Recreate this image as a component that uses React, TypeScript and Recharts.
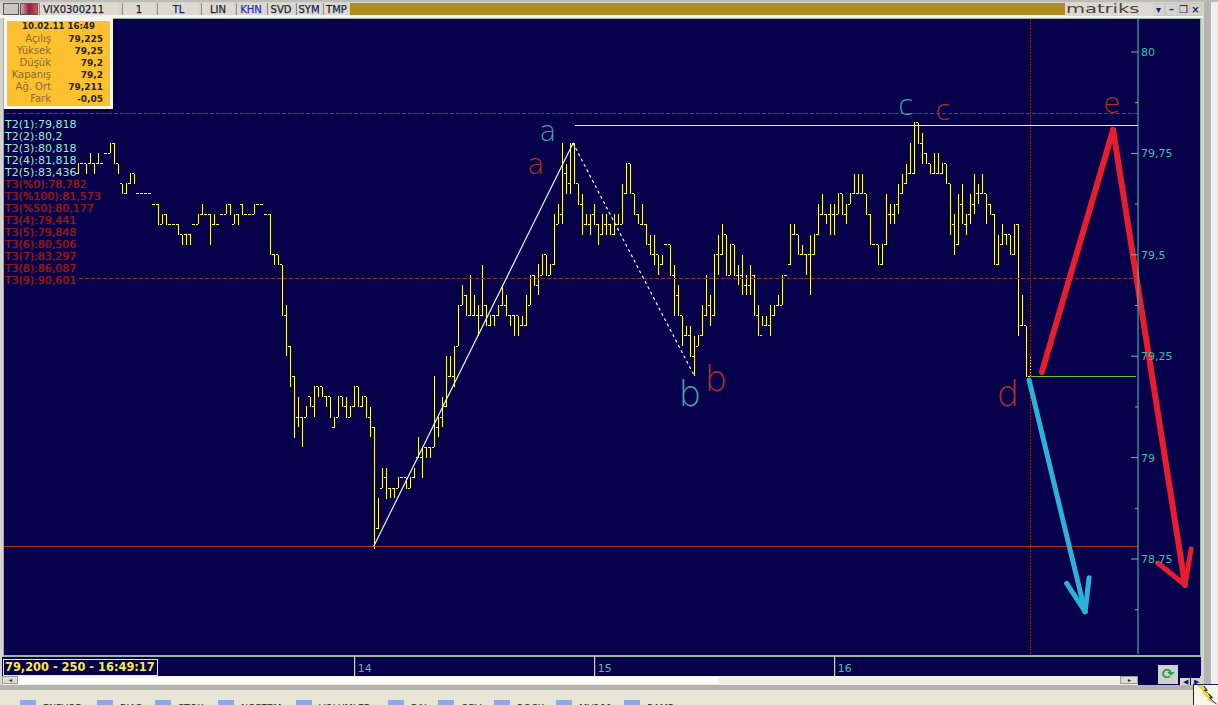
import { Bar, ComposedChart, ReferenceDot, ReferenceLine, XAxis, YAxis } from "recharts";

// one-minute OHLC bars of VIX0300211, oldest first
const highs = [
  79.725, 79.725, 79.725, 79.75, 79.725, 79.75, 79.725, 79.75, 79.775, 79.775,
  79.725, 79.675, 79.675, 79.7, 79.7, 79.65, 79.65, 79.65, 79.65, 79.625,
  79.625, 79.6, 79.6, 79.575, 79.575, 79.575, 79.55, 79.55, 79.55, 79.575,
  79.6, 79.625, 79.6, 79.6, 79.6, 79.575, 79.6, 79.625, 79.625, 79.6,
  79.6, 79.625, 79.6, 79.6, 79.625, 79.625, 79.625, 79.6, 79.6, 79.5,
  79.5, 79.475, 79.375, 79.275, 79.2, 79.15, 79.1, 79.125, 79.15, 79.175,
  79.175, 79.175, 79.15, 79.15, 79.1, 79.15, 79.15, 79.15, 79.125, 79.175,
  79.175, 79.15, 79.15, 79.125, 79.075, 78.9, 78.975, 78.975, 78.925, 78.925,
  78.95, 78.95, 78.95, 78.95, 78.975, 79.05, 79.025, 79.025, 79.025, 79.2,
  79.1, 79.15, 79.25, 79.25, 79.275, 79.375, 79.425, 79.4, 79.45, 79.4,
  79.375, 79.475, 79.375, 79.35, 79.35, 79.375, 79.425, 79.4, 79.35, 79.35,
  79.35, 79.35, 79.4, 79.45, 79.45, 79.475, 79.5, 79.5, 79.475, 79.6,
  79.625, 79.775, 79.725, 79.775, 79.775, 79.675, 79.65, 79.6, 79.6, 79.625,
  79.575, 79.6, 79.6, 79.575, 79.6, 79.6, 79.675, 79.725, 79.725, 79.65,
  79.6, 79.625, 79.575, 79.55, 79.55, 79.5, 79.5, 79.525, 79.525, 79.475,
  79.425, 79.35, 79.325, 79.325, 79.3, 79.3, 79.375, 79.45, 79.4, 79.5,
  79.55, 79.575, 79.55, 79.525, 79.525, 79.475, 79.5, 79.45, 79.475, 79.45,
  79.375, 79.35, 79.35, 79.375, 79.375, 79.4, 79.45, 79.45, 79.575, 79.575,
  79.55, 79.525, 79.5, 79.55, 79.55, 79.625, 79.65, 79.6, 79.625, 79.625,
  79.65, 79.65, 79.625, 79.65, 79.7, 79.7, 79.7, 79.65, 79.6, 79.525,
  79.525, 79.525, 79.65, 79.625, 79.625, 79.675, 79.7, 79.725, 79.775, 79.825,
  79.825, 79.8, 79.75, 79.725, 79.75, 79.75, 79.725, 79.725, 79.675, 79.6,
  79.65, 79.675, 79.6, 79.65, 79.7, 79.675, 79.7, 79.65, 79.625, 79.6,
  79.55, 79.575, 79.55, 79.55, 79.575, 79.575, 79.4, 79.325, 79.25,
];
const lows = [
  79.7, 79.725, 79.7, 79.725, 79.7, 79.725, 79.725, 79.75, 79.75, 79.725,
  79.7, 79.65, 79.65, 79.675, 79.675, 79.65, 79.65, 79.65, 79.65, 79.625,
  79.575, 79.575, 79.575, 79.575, 79.575, 79.55, 79.525, 79.525, 79.525, 79.575,
  79.575, 79.6, 79.6, 79.525, 79.575, 79.575, 79.6, 79.6, 79.6, 79.575,
  79.575, 79.6, 79.6, 79.6, 79.6, 79.625, 79.625, 79.6, 79.5, 79.475,
  79.475, 79.35, 79.25, 79.175, 79.05, 79.075, 79.025, 79.1, 79.125, 79.1,
  79.15, 79.15, 79.125, 79.1, 79.075, 79.1, 79.125, 79.1, 79.1, 79.125,
  79.125, 79.125, 79.1, 79.05, 78.775, 78.825, 78.925, 78.9, 78.9, 78.9,
  78.925, 78.95, 78.925, 78.925, 78.95, 79, 78.95, 79, 79, 79.025,
  79.05, 79.075, 79.125, 79.2, 79.175, 79.275, 79.375, 79.35, 79.35, 79.35,
  79.3, 79.35, 79.325, 79.325, 79.325, 79.35, 79.375, 79.35, 79.325, 79.3,
  79.3, 79.325, 79.325, 79.375, 79.425, 79.4, 79.45, 79.45, 79.45, 79.475,
  79.575, 79.575, 79.65, 79.65, 79.675, 79.625, 79.55, 79.575, 79.55, 79.575,
  79.525, 79.55, 79.55, 79.55, 79.55, 79.575, 79.575, 79.65, 79.65, 79.6,
  79.575, 79.575, 79.525, 79.5, 79.475, 79.45, 79.475, 79.525, 79.45, 79.35,
  79.35, 79.275, 79.3, 79.25, 79.2, 79.275, 79.3, 79.35, 79.325, 79.35,
  79.45, 79.5, 79.45, 79.45, 79.45, 79.425, 79.4, 79.4, 79.4, 79.35,
  79.3, 79.325, 79.325, 79.3, 79.35, 79.375, 79.375, 79.45, 79.475, 79.55,
  79.5, 79.5, 79.45, 79.4, 79.5, 79.55, 79.6, 79.575, 79.55, 79.55,
  79.6, 79.6, 79.575, 79.625, 79.65, 79.65, 79.65, 79.6, 79.525, 79.525,
  79.475, 79.475, 79.525, 79.575, 79.575, 79.6, 79.65, 79.675, 79.7, 79.7,
  79.775, 79.725, 79.725, 79.7, 79.7, 79.7, 79.7, 79.675, 79.55, 79.5,
  79.525, 79.575, 79.55, 79.575, 79.6, 79.625, 79.65, 79.575, 79.6, 79.475,
  79.475, 79.525, 79.525, 79.5, 79.5, 79.3, 79.325, 79.2, 79.2,
];
const opens = [
  79.7, 79.725, 79.725, 79.725, 79.725, 79.725, 79.725, 79.75, 79.75, 79.775,
  79.725, 79.675, 79.65, 79.675, 79.7, 79.65, 79.65, 79.65, 79.65, 79.625,
  79.625, 79.575, 79.6, 79.575, 79.575, 79.575, 79.55, 79.55, 79.55, 79.575,
  79.575, 79.6, 79.6, 79.6, 79.575, 79.575, 79.6, 79.6, 79.625, 79.575,
  79.6, 79.625, 79.6, 79.6, 79.6, 79.625, 79.625, 79.6, 79.6, 79.5,
  79.5, 79.475, 79.35, 79.275, 79.2, 79.1, 79.1, 79.1, 79.15, 79.125,
  79.175, 79.175, 79.15, 79.15, 79.075, 79.1, 79.15, 79.125, 79.1, 79.125,
  79.175, 79.125, 79.15, 79.1, 79.075, 78.825, 78.925, 78.95, 78.925, 78.925,
  78.925, 78.95, 78.95, 78.925, 78.95, 79, 79, 79.025, 79.025, 79.025,
  79.075, 79.1, 79.125, 79.2, 79.2, 79.275, 79.375, 79.4, 79.35, 79.35,
  79.35, 79.35, 79.375, 79.325, 79.35, 79.35, 79.375, 79.375, 79.35, 79.35,
  79.35, 79.325, 79.325, 79.375, 79.45, 79.425, 79.45, 79.5, 79.45, 79.475,
  79.575, 79.6, 79.7, 79.675, 79.775, 79.675, 79.625, 79.575, 79.575, 79.6,
  79.575, 79.55, 79.575, 79.575, 79.55, 79.575, 79.575, 79.65, 79.725, 79.65,
  79.6, 79.575, 79.575, 79.525, 79.5, 79.5, 79.475, 79.525, 79.525, 79.45,
  79.4, 79.35, 79.3, 79.3, 79.25, 79.275, 79.3, 79.35, 79.375, 79.35,
  79.5, 79.5, 79.55, 79.45, 79.525, 79.45, 79.45, 79.425, 79.425, 79.45,
  79.35, 79.3, 79.325, 79.325, 79.35, 79.375, 79.375, 79.45, 79.475, 79.55,
  79.55, 79.5, 79.5, 79.5, 79.5, 79.55, 79.6, 79.6, 79.6, 79.6,
  79.6, 79.65, 79.6, 79.625, 79.65, 79.65, 79.65, 79.65, 79.6, 79.525,
  79.525, 79.475, 79.525, 79.6, 79.6, 79.625, 79.65, 79.675, 79.7, 79.7,
  79.825, 79.775, 79.75, 79.725, 79.7, 79.7, 79.7, 79.725, 79.675, 79.575,
  79.525, 79.625, 79.575, 79.6, 79.625, 79.65, 79.65, 79.65, 79.625, 79.6,
  79.475, 79.525, 79.55, 79.55, 79.5, 79.575, 79.325, 79.325, 79.2,
];
const closes = [
  79.725, 79.725, 79.7, 79.725, 79.725, 79.75, 79.725, 79.75, 79.775, 79.725,
  79.7, 79.65, 79.675, 79.7, 79.675, 79.65, 79.65, 79.65, 79.65, 79.625,
  79.575, 79.6, 79.575, 79.575, 79.575, 79.55, 79.525, 79.55, 79.55, 79.575,
  79.6, 79.6, 79.6, 79.6, 79.575, 79.575, 79.6, 79.625, 79.6, 79.6,
  79.575, 79.6, 79.6, 79.6, 79.625, 79.625, 79.625, 79.6, 79.5, 79.5,
  79.475, 79.35, 79.275, 79.2, 79.05, 79.1, 79.1, 79.125, 79.125, 79.175,
  79.15, 79.15, 79.15, 79.1, 79.075, 79.15, 79.125, 79.1, 79.125, 79.175,
  79.125, 79.15, 79.1, 79.075, 78.825, 78.9, 78.95, 78.9, 78.925, 78.925,
  78.95, 78.95, 78.925, 78.95, 78.95, 79, 79.025, 79.025, 79, 79.075,
  79.1, 79.125, 79.2, 79.2, 79.275, 79.375, 79.4, 79.35, 79.35, 79.35,
  79.35, 79.4, 79.325, 79.35, 79.35, 79.375, 79.375, 79.35, 79.35, 79.35,
  79.325, 79.325, 79.4, 79.45, 79.425, 79.475, 79.5, 79.45, 79.475, 79.575,
  79.6, 79.7, 79.675, 79.775, 79.675, 79.625, 79.575, 79.575, 79.575, 79.575,
  79.55, 79.575, 79.575, 79.55, 79.575, 79.575, 79.65, 79.725, 79.65, 79.6,
  79.6, 79.575, 79.525, 79.5, 79.5, 79.475, 79.475, 79.525, 79.45, 79.4,
  79.35, 79.3, 79.3, 79.25, 79.275, 79.3, 79.35, 79.375, 79.35, 79.5,
  79.5, 79.55, 79.45, 79.525, 79.45, 79.45, 79.45, 79.425, 79.45, 79.35,
  79.3, 79.325, 79.325, 79.35, 79.375, 79.375, 79.45, 79.45, 79.55, 79.55,
  79.5, 79.5, 79.5, 79.5, 79.55, 79.6, 79.6, 79.6, 79.6, 79.6,
  79.65, 79.6, 79.625, 79.65, 79.65, 79.65, 79.65, 79.6, 79.525, 79.525,
  79.475, 79.525, 79.6, 79.6, 79.625, 79.65, 79.675, 79.7, 79.75, 79.825,
  79.775, 79.75, 79.725, 79.7, 79.7, 79.7, 79.725, 79.675, 79.65, 79.525,
  79.625, 79.6, 79.575, 79.625, 79.65, 79.65, 79.65, 79.625, 79.6, 79.5,
  79.525, 79.55, 79.55, 79.5, 79.575, 79.325, 79.325, 79.2, 79.2,
];

const bars = highs.map((high, i) => ({
  i,
  high,
  low: lows[i],
  open: opens[i],
  close: closes[i],
}));

const yTicks = [78.625, 78.75, 78.875, 79, 79.125, 79.25, 79.375, 79.5, 79.625, 79.75, 79.875, 80];
const xTicks = [69, 129, 189];
const xLabels = ["14", "15", "16"];

const t2Rows = ["T2(1):79,818", "T2(2):80,2", "T2(3):80,818", "T2(4):81,818", "T2(5):83,436"];
const t3Rows = [
  "T3(%0):78,782",
  "T3(%100):81,573",
  "T3(%50):80,177",
  "T3(4):79,441",
  "T3(5):79,848",
  "T3(6):80,506",
  "T3(7):83,297",
  "T3(8):86,087",
  "T3(9):90,601",
];
const infoLabels = ["Açılış", "Yüksek", "Düşük", "Kapanış", "Ağ. Ort", "Fark"];
const infoValues = ["79,225", "79,25", "79,2", "79,2", "79,211", "-0,05"];

// hand drawn segments, as [bar index, price]
const redArrow = [[240.8, 79.211], [258.6, 79.808], [276.6, 78.686]];
const redHead = [[269.8, 78.74], [276.6, 78.686], [278.1, 78.775]];
const blueArrow = [[237.6, 79.191], [251.6, 78.62]];
const blueHead = [[247.0, 78.69], [251.6, 78.62], [252.6, 78.704]];
const whiteRise = [[73.8, 78.782], [123.6, 79.775]];
const whiteFall = [[123.6, 79.775], [154, 79.2]];
const tealLetters = [
  { text: "a", i: 117.3, p: 79.805 },
  { text: "b", i: 152.8, p: 79.159 },
  { text: "c", i: 206.8, p: 79.869 },
];
const redLetters = [
  { text: "a", i: 114.3, p: 79.722 },
  { text: "b", i: 159.3, p: 79.196 },
  { text: "c", i: 216.1, p: 79.855 },
  { text: "e", i: 258.3, p: 79.874 },
  { text: "d", i: 232.3, p: 79.159 },
];

const toolbarCells = ["VIX0300211", "1", "TL", "LIN", "KHN", "SVD", "SYM", "TMP"];
const footerTabs = ["ENFVOB", "BIAS", "STOK", "NORTEM", "VOLUMLER", "BAL", "OBV", "ROCK", "MV100", "RAMP"];
const windowButtons = ["▾", "–", "❐", "×"];

const toolbarLefts = [39, 122, 157, 201, 236, 267, 296, 323];
const toolbarWidths = [80, 33, 42, 33, 29, 27, 25, 26];
const footerLefts = [20, 97, 155, 218, 296, 388, 438, 494, 556, 624];
const windowLefts = [1153, 1166, 1178, 1190];

const NAVY = "#07004a";
const FONT = '"DejaVu Sans", Verdana, sans-serif';
const BOLT = "polygon(0 0,40% 0,62% 38%,48% 42%,100% 100%,32% 56%,46% 50%)";

function OhlcBar(props: any) {
  const { x, width, y, height, payload } = props;
  const cx = x + width / 2;
  const top = Math.min(y, y + height);
  const h = Math.abs(height);
  const range = payload.high - payload.low;
  const yOpen = range ? top + ((payload.high - payload.open) / range) * h : top;
  const yClose = range ? top + ((payload.high - payload.close) / range) * h : top;
  return (
    <g stroke="#ffff3a" strokeWidth={1} shapeRendering="crispEdges">
      <line x1={cx} x2={cx} y1={top} y2={top + h} />
      <line x1={cx - 2} x2={cx} y1={yOpen} y2={yOpen} />
      <line x1={cx} x2={cx + 1} y1={yClose} y2={yClose} />
    </g>
  );
}

function PriceTick(props: any) {
  const { x, y, payload } = props;
  const major = (payload.value * 4) % 1 === 0;
  return (
    <g>
      <line x1={x - (major ? 7 : 3)} x2={x} y1={y} y2={y} stroke="#45cdb0" />
      {major && (
        <text x={x + 3} y={y + 4} fill="#3fc4a4" fontSize={11} fontFamily={FONT}>
          {String(payload.value).replace(".", ",")}
        </text>
      )}
    </g>
  );
}

function HourTick(props: any) {
  const { x, y, payload, index } = props;
  return (
    <g>
      <line x1={x} x2={x} y1={y + 2} y2={y + 22} stroke="#f4f4f4" />
      <text x={x + 3} y={y + 18} fill="#3fc4a4" fontSize={11} fontFamily={FONT}>
        {xLabels[index] ?? payload.value}
      </text>
    </g>
  );
}

function HandLetter(props: any) {
  const { cx, cy, text, color } = props;
  return (
    <text
      x={cx}
      y={cy}
      textAnchor="middle"
      dominantBaseline="central"
      fill={color}
      fontSize={"bd".includes(text) ? 36 : 28}
      fontWeight={200}
      fontFamily={FONT}
    >
      {text}
    </text>
  );
}

function letterDots(letters: { text: string; i: number; p: number }[], color: string) {
  return letters.map((l) => (
    <ReferenceDot
      key={`${color}-${l.text}`}
      x={l.i}
      y={l.p}
      r={0}
      ifOverflow="visible"
      shape={(p: any) => <HandLetter {...p} text={l.text} color={color} />}
    />
  ));
}

// draws a polyline as reference segments so it goes through the chart scales
function polySegments(points: number[][], key: string, stroke: string, strokeWidth: number, dash?: string) {
  return points.slice(1).map((pt, n) => (
    <ReferenceLine
      key={`${key}-${n}`}
      segment={[
        { x: points[n][0], y: points[n][1] },
        { x: pt[0], y: pt[1] },
      ]}
      stroke={stroke}
      strokeWidth={strokeWidth}
      strokeDasharray={dash}
      strokeLinecap="round"
      ifOverflow="visible"
    />
  ));
}

function Box(props: { left: number; top: number; width: number; height: number; style?: any; children?: any }) {
  const { left, top, width, height, style, children } = props;
  return <div style={{ position: "absolute", left, top, width, height, ...style }}>{children}</div>;
}

function Chrome() {
  return (
    <>
      {/* window frame */}
      <Box left={0} top={0} width={1218} height={705} style={{ background: "#d6d4ca" }} />
      <Box left={1204} top={0} width={7} height={705} style={{ background: "#b4b4b0" }} />
      <Box left={1211} top={0} width={7} height={705} style={{ background: "#eef0f0" }} />
      <Box left={350} top={3} width={715} height={12} style={{ background: "#b08a22" }} />
      <Box left={0} top={15} width={1203} height={3} style={{ background: "#f4f4f0" }} />
      <Box left={0} top={0} width={1218} height={2} style={{ background: "#bcbcb8" }} />

      {/* toolbar */}
      <Box left={3} top={3} width={16} height={12} style={{ background: "#c8c8c0", border: "1px solid #555", boxSizing: "border-box" }} />
      <Box left={20} top={3} width={18} height={12} style={{ background: "linear-gradient(90deg,#e9a0a0,#8a2040,#d05060)", border: "1px solid #555", boxSizing: "border-box" }} />
      {toolbarCells.map((text, n) => (
        <Box
          key={text}
          left={toolbarLefts[n]}
          top={3}
          width={toolbarWidths[n]}
          height={12}
          style={{
            background: "#dcdad0",
            color: text === "KHN" ? "#2a2ac8" : "#1c1c40",
            font: `10px ${FONT}`,
            lineHeight: "14px",
            textAlign: n === 0 ? "left" : "center",
            paddingLeft: n === 0 ? 3 : 0,
            borderLeft: "1px solid #8a8a84",
            boxSizing: "border-box",
            WebkitTextStroke: "0.25px currentColor",
          }}
        >
          {text}
        </Box>
      ))}
      <Box left={1065} top={3} width={88} height={13} style={{ background: "#dcdad0" }} />
      <Box
        left={1066}
        top={3}
        width={76}
        height={12}
        style={{ color: "#444", font: `13px ${FONT}`, lineHeight: "11px", transform: "scaleX(1.5)", transformOrigin: "left" }}
      >
        matriks
      </Box>
      <Box left={1153} top={3} width={49} height={13} style={{ background: "#c8c8c2" }} />
      {windowButtons.map((s, n) => (
        <Box
          key={s}
          left={windowLefts[n]}
          top={4}
          width={11}
          height={11}
          style={{ background: "#d4d4ce", color: "#22226a", font: `bold 10px ${FONT}`, lineHeight: "11px", textAlign: "center" }}
        >
          {s}
        </Box>
      ))}

      {/* navy panels */}
      <Box left={3} top={18} width={1198} height={638} style={{ background: NAVY, boxSizing: "border-box", border: "1px solid #8fb49c" }} />
      <Box left={3} top={655} width={1198} height={2} style={{ background: "#9cb8a4" }} />
      <Box left={2} top={657} width={1199} height={19} style={{ background: NAVY }} />
      <Box left={1138} top={676} width={62} height={9} style={{ background: NAVY }} />

      {/* scrollbar and footer */}
      <Box left={2} top={676} width={1136} height={9} style={{ background: "#f0efe8" }} />
      <Box left={18} top={677} width={700} height={7} style={{ background: "#ffffff" }} />
      <Box left={2} top={676} width={16} height={8} style={{ background: "#dedcd4", border: "1px solid #999", boxSizing: "border-box", color: "#222", font: "6px sans-serif", lineHeight: "6px", textAlign: "center" }}>◂</Box>
      <Box left={1120} top={676} width={18} height={8} style={{ background: "#dedcd4", border: "1px solid #999", boxSizing: "border-box", color: "#222", font: "6px sans-serif", lineHeight: "6px", textAlign: "center" }}>▸</Box>
      <Box left={0} top={685} width={1204} height={5} style={{ background: "#b2b2ae" }} />
      <Box left={0} top={690} width={1193} height={15} style={{ background: "#e8e6d6" }} />
      {footerTabs.map((text, n) => (
        <Box key={text} left={footerLefts[n]} top={700} width={180} height={5} style={{ overflow: "hidden" }}>
          <div style={{ position: "absolute", left: 0, top: 0, width: 16, height: 12, background: "#8fa8e4" }} />
          <div style={{ position: "absolute", left: 23, top: 2, color: "#222", font: `9.5px ${FONT}`, whiteSpace: "nowrap" }}>{text}</div>
        </Box>
      ))}
      <Box left={1158} top={665} width={20} height={19} style={{ background: "#d0d4cc", color: "#2c9a4a", font: `bold 15px ${FONT}`, lineHeight: "19px", textAlign: "center" }}>⟳</Box>
      <Box left={1180} top={678} width={10} height={7} style={{ background: "#d8d8d0", color: "#18186a", font: "7px sans-serif", lineHeight: "7px", textAlign: "center" }}>◀</Box>
      <Box left={1191} top={678} width={10} height={7} style={{ background: "#d8d8d0", color: "#18186a", font: "7px sans-serif", lineHeight: "7px", textAlign: "center" }}>▶</Box>
      <Box left={1193} top={684} width={25} height={21} style={{ background: "#f6f6ea", borderTop: "1px solid #18186a", borderLeft: "1px solid #18186a", boxSizing: "border-box" }} />
      <Box left={1198} top={686} width={16} height={12} style={{ background: "#18186a", clipPath: BOLT }} />
      <Box left={1196} top={685} width={16} height={12} style={{ background: "#f2da20", clipPath: BOLT }} />
      <Box left={1204} top={694} width={14} height={11} style={{ background: "#18186a", clipPath: BOLT }} />
      <Box left={1202} top={693} width={14} height={11} style={{ background: "#f2da20", clipPath: BOLT }} />
    </>
  );
}

function Overlays() {
  return (
    <>
      {/* values box */}
      <Box left={4} top={18} width={109} height={91} style={{ background: "#fdc130", border: "3px solid #f8f6ec", boxSizing: "border-box" }} />
      <Box left={4} top={20} width={109} height={12} style={{ color: "#2a2420", font: `bold 8.6px ${FONT}`, lineHeight: "12px", textAlign: "center" }}>
        10.02.11 16:49
      </Box>
      {infoLabels.map((label, n) => (
        <div key={label}>
          <Box left={4} top={33 + n * 12} width={47} height={12} style={{ color: "#8a6a30", font: `10px ${FONT}`, lineHeight: "12px", textAlign: "right", whiteSpace: "nowrap" }}>
            {label}
          </Box>
          <Box left={52} top={33 + n * 12} width={51} height={12} style={{ color: "#2a2420", font: `bold 9px ${FONT}`, lineHeight: "12px", textAlign: "right" }}>
            {infoValues[n]}
          </Box>
        </div>
      ))}

      {/* level labels */}
      {t2Rows.map((t, n) => (
        <Box key={t} left={5} top={119 + n * 12} width={100} height={12} style={{ color: "#a0ecc8", font: `11px ${FONT}`, lineHeight: "12px", whiteSpace: "nowrap" }}>
          {t}
        </Box>
      ))}
      {t3Rows.map((t, n) => (
        <Box key={t} left={5} top={179 + n * 12} width={110} height={12} style={{ color: "#8f1a14", font: `11px ${FONT}`, lineHeight: "12px", whiteSpace: "nowrap", textShadow: "0 0 1px #a8241c" }}>
          {t}
        </Box>
      ))}

      {/* status */}
      <Box left={3} top={659} width={155} height={17} style={{ background: NAVY, border: "1px solid #e8e8e8", boxSizing: "border-box", color: "#f8ec40", font: `bold 11.4px ${FONT}`, lineHeight: "15px", whiteSpace: "nowrap", paddingLeft: 1 }}>
        79,200 - 250 - 16:49:17
      </Box>
    </>
  );
}

export default function App() {
  return (
    <div style={{ position: "fixed", left: 0, top: 0, width: 1218, height: 705, overflow: "hidden" }}>
      <Chrome />
      <div style={{ position: "absolute", left: 0, top: 0 }}>
        <ComposedChart width={1218} height={705} data={bars} margin={{ top: 18, left: 4, right: 16, bottom: 29 }}>
          <XAxis
            type="number"
            dataKey="i"
            domain={[-18.67, 264.83]}
            allowDataOverflow
            ticks={xTicks}
            interval={0}
            height={22}
            axisLine={false}
            tickLine={false}
            tickSize={0}
            tickMargin={0}
            tick={HourTick}
          />
          <YAxis
            orientation="right"
            type="number"
            domain={[78.5158, 80.0838]}
            allowDataOverflow
            ticks={yTicks}
            interval={0}
            width={64}
            axisLine={{ stroke: "#45cdb0" }}
            tickLine={false}
            tickSize={0}
            tickMargin={0}
            tick={PriceTick}
          />
          <ReferenceLine y={79.848} stroke="#96301f" strokeDasharray="4 2" shapeRendering="crispEdges" />
          <ReferenceLine
            segment={[{ x: 0, y: 79.441 }, { x: 264.83, y: 79.441 }]}
            stroke="#96301f"
            strokeDasharray="4 2"
            shapeRendering="crispEdges"
          />
          <ReferenceLine y={78.78} stroke="#b02c1c" shapeRendering="crispEdges" />
          <ReferenceLine x={238} stroke="#7c1c20" strokeDasharray="2 1" shapeRendering="crispEdges" />
          <Bar
            dataKey={(d: any) => [d.low, d.high]}
            barSize={1}
            shape={OhlcBar}
            isAnimationActive={false}
          />
          {polySegments(whiteRise, "rise", "#dcfaf6", 1.2)}
          {polySegments(whiteFall, "fall", "#f0f8f8", 1.2, "2 4")}
          <ReferenceLine
            segment={[{ x: 124, y: 79.818 }, { x: 264.83, y: 79.818 }]}
            stroke="#e6f0f4"
            shapeRendering="crispEdges"
          />
          <ReferenceLine
            segment={[{ x: 238, y: 79.2 }, { x: 264.3, y: 79.2 }]}
            stroke="#5cc83e"
            shapeRendering="crispEdges"
          />
          {polySegments(redArrow, "red", "#e61e2e", 6)}
          {polySegments(redHead, "redhead", "#e61e2e", 5)}
          {polySegments(blueArrow, "blue", "#2cb2d8", 5)}
          {polySegments(blueHead, "bluehead", "#2cb2d8", 5)}
          {letterDots(tealLetters, "#3fa5ab")}
          {letterDots(redLetters, "#a9322a")}
        </ComposedChart>
      </div>
      <Overlays />
    </div>
  );
}
